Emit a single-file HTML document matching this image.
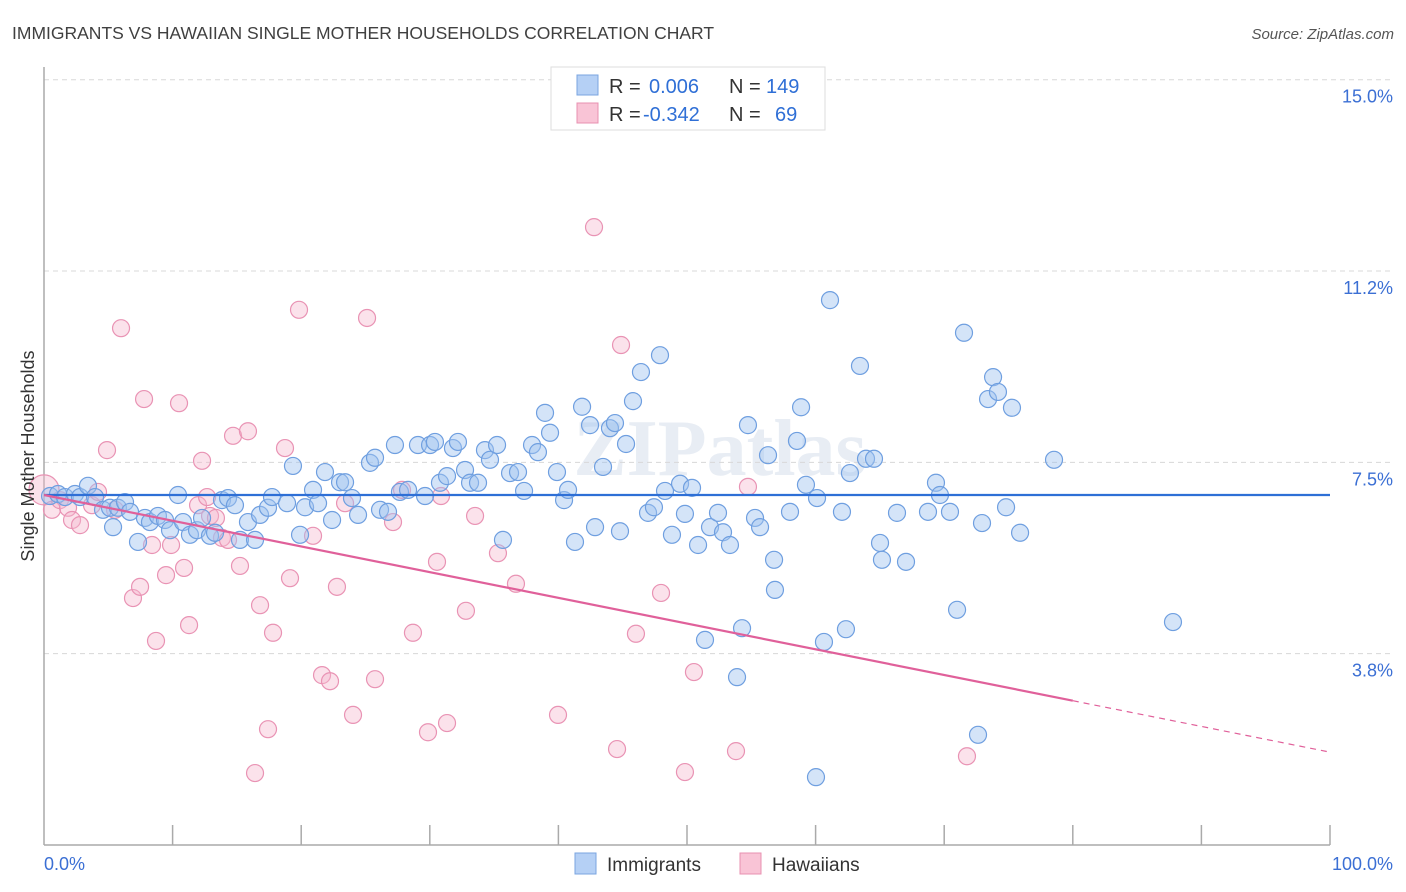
<!DOCTYPE html>
<html><head><meta charset="utf-8"><style>
body{margin:0;background:#fff;}
svg{display:block;font-family:"Liberation Sans",sans-serif;}
</style></head><body>
<svg id="chart" width="1406" height="892" viewBox="0 0 1406 892">
<text x="12" y="39" font-size="17.5" fill="#404040">IMMIGRANTS VS HAWAIIAN SINGLE MOTHER HOUSEHOLDS CORRELATION CHART</text>
<text x="1394" y="39" font-size="15" fill="#555" font-style="italic" text-anchor="end">Source: ZipAtlas.com</text>
<text x="720" y="475" font-size="80" fill="#e8edf4" text-anchor="middle" font-weight="bold" font-family="Liberation Serif,serif">ZIPatlas</text>
<g id="grid"></g>
<g id="axes"></g>
<g id="pts"></g>
<g id="trends"></g>
<text transform="translate(34,456) rotate(-90)" font-size="18" fill="#333" text-anchor="middle">Single Mother Households</text>
<g>
<rect x="551" y="67" width="274" height="63" fill="#fff" stroke="#ddd"/>
<rect x="577" y="75" width="21" height="20" fill="#b5d0f5" stroke="#7aa5e0"/>
<rect x="577" y="103" width="21" height="20" fill="#f9c4d6" stroke="#e890b0"/>
<text x="609" y="93" font-size="20" fill="#333">R = <tspan x="649" fill="#2f6fd6">0.006</tspan><tspan x="729" fill="#333">N = </tspan><tspan x="766" fill="#2f6fd6">149</tspan></text>
<text x="609" y="121" font-size="20" fill="#333">R = <tspan x="643" fill="#2f6fd6">-0.342</tspan><tspan x="729" fill="#333">N = </tspan><tspan x="775" fill="#2f6fd6">69</tspan></text>
</g>
<g>
<rect x="575" y="853" width="21" height="21" fill="#b5d0f5" stroke="#7aa5e0"/>
<text x="607" y="871" font-size="19" fill="#333">Immigrants</text>
<rect x="740" y="853" width="21" height="21" fill="#f9c4d6" stroke="#e890b0"/>
<text x="772" y="871" font-size="19" fill="#333">Hawaiians</text>
</g>
</svg>
<script>
const yTicks=[15.0,11.25,7.5,3.75];
const yTickLabels=["15.0%","11.2%","7.5%","3.8%"];
const xTickCount=10;
const xLabels=["0.0%","100.0%"];
const blueX=[0.47,1.09,1.63,2.41,2.80,3.42,3.97,4.59,5.13,5.37,5.75,6.30,6.69,7.31,7.85,8.24,8.86,9.41,9.80,10.42,10.81,11.35,11.90,12.29,12.91,13.30,13.84,14.31,14.85,15.24,15.86,16.41,16.80,17.42,17.73,18.90,19.36,19.91,20.30,20.92,21.31,21.85,22.40,23.02,23.41,23.95,24.42,25.35,25.74,26.13,26.75,27.29,27.68,28.31,29.08,29.63,30.02,30.40,30.79,31.34,31.80,32.19,32.74,33.13,33.75,34.29,34.68,35.23,35.69,36.24,36.86,37.33,37.95,38.41,38.96,39.35,39.89,40.44,40.75,41.29,41.84,42.46,42.85,43.47,44.01,44.40,44.79,45.26,45.80,46.42,46.97,47.43,47.90,48.29,48.83,49.46,49.84,50.39,50.86,51.40,51.79,52.41,52.80,53.34,54.28,54.74,53.89,55.29,55.68,56.30,56.77,56.84,58.01,58.55,58.87,59.25,60.11,60.65,61.12,62.05,62.36,62.67,63.45,63.92,64.54,65.01,65.16,66.33,67.03,68.74,69.36,69.67,70.45,71.00,71.54,72.94,73.41,73.80,74.18,74.81,75.27,75.90,78.54,87.79,72.63,60.03];
const blueY=[6.84,6.88,6.82,6.88,6.82,7.04,6.82,6.57,6.61,6.23,6.61,6.72,6.53,5.94,6.41,6.33,6.45,6.37,6.17,6.86,6.33,6.08,6.17,6.41,6.06,6.12,6.76,6.80,6.66,5.98,6.33,5.98,6.47,6.61,6.82,6.70,7.43,6.08,6.62,6.96,6.70,7.31,6.37,7.11,7.11,6.80,6.47,7.49,7.59,6.57,6.53,7.84,6.92,6.96,7.84,6.84,7.84,7.90,7.10,7.23,7.78,7.90,7.35,7.10,7.10,7.74,7.55,7.84,5.98,7.29,7.31,6.94,7.84,7.70,8.47,8.08,7.31,6.76,6.96,5.94,8.59,8.23,6.23,7.41,8.17,8.27,6.15,7.86,8.70,9.27,6.51,6.62,9.60,6.94,6.08,7.08,6.49,7.00,5.88,4.02,6.23,6.51,6.13,5.88,4.25,8.23,3.29,6.41,6.23,7.64,5.59,5.00,6.53,7.92,8.58,7.06,6.80,3.98,10.68,6.53,4.23,7.29,9.39,7.57,7.57,5.92,5.59,6.51,5.55,6.53,7.10,6.86,6.53,4.61,10.04,6.31,8.74,9.17,8.88,6.62,8.57,6.12,7.55,4.37,2.16,1.33];
const pinkX=[0,0.62,1.24,1.87,2.18,2.80,3.73,4.20,4.90,5.52,5.99,6.92,7.47,7.78,8.40,8.71,9.49,9.88,10.50,10.89,11.28,11.98,12.29,12.68,12.91,13.37,13.84,14.31,14.70,15.24,15.86,16.41,16.80,17.42,17.81,18.74,19.13,19.83,20.92,21.62,22.24,22.78,23.41,24.03,25.12,25.74,27.14,27.84,28.69,29.86,30.56,30.87,31.34,32.81,33.52,35.30,36.70,39.97,42.77,44.56,44.87,46.03,47.98,49.84,50.54,53.81,54.74,71.77];
const pinkY=[6.96,6.57,6.76,6.61,6.37,6.27,6.66,6.92,7.74,6.57,10.13,4.84,5.06,8.74,5.88,4.00,5.29,5.88,8.66,5.43,4.31,6.66,7.53,6.82,6.45,6.41,6.02,5.98,8.02,5.47,8.11,1.41,4.70,2.27,4.16,7.78,5.23,10.49,6.06,3.33,3.21,5.06,6.70,2.55,10.33,3.25,6.33,6.96,4.16,2.21,5.55,6.84,2.39,4.59,6.45,5.72,5.12,2.55,12.11,1.88,9.80,4.14,4.94,1.43,3.39,1.84,7.02,1.74];
const blueTrend=[6.86,6.86];
const pinkTrend=[6.86,1.82];
const pinkSolidEnd=80;

const NS="http://www.w3.org/2000/svg";
const X0=44,X1=1330,Y0=845,YPER=51.02;
function xs(v){return X0+(X1-X0)*v/100;}
function ys(v){return Y0-v*YPER;}
function mk(tag,attrs,parent){const e=document.createElementNS(NS,tag);for(const k in attrs)e.setAttribute(k,attrs[k]);parent.appendChild(e);return e;}
const grid=document.getElementById('grid'),axes=document.getElementById('axes'),pts=document.getElementById('pts'),tr=document.getElementById('trends');
yTicks.forEach((t,i)=>{
 const l=mk('line',{x1:X0,x2:1394,y1:ys(t),y2:ys(t),stroke:'#d8d8d8','stroke-dasharray':'5,4'},grid);
 
 
 const tx=mk('text',{x:1393,y:ys(t)+23,'font-size':18,fill:'#3b6fd4','text-anchor':'end'},grid);
 tx.textContent=yTickLabels[i];
 
 
});
const ya=mk('line',{x1:X0,x2:X0,y1:67,y2:Y0,stroke:'#aaa','stroke-width':1.5},axes);


const xa=mk('line',{x1:X0,x2:X1,y1:Y0,y2:Y0,stroke:'#aaa','stroke-width':1.5},axes);


for(let i=1;i<=xTickCount;i++){
 const t=mk('line',{x1:xs(i*10),x2:xs(i*10),y1:Y0-20,y2:Y0,stroke:'#aaa','stroke-width':1.5},axes);
 
 
}
const xl0=mk('text',{x:X0,y:870,'font-size':18,fill:'#3b6fd4'},axes);xl0.textContent=xLabels[0];


const xl1=mk('text',{x:1393,y:870,'font-size':18,fill:'#3b6fd4','text-anchor':'end'},axes);xl1.textContent=xLabels[1];


pinkX.forEach((x,i)=>{
 const c=mk('circle',{cx:xs(x),cy:ys(pinkY[i]),r:i===0?15:8.5,fill:'rgba(246,182,204,0.4)',stroke:'#e993b4','stroke-width':1.2},pts);
 
 
});
blueX.forEach((x,i)=>{
 const c=mk('circle',{cx:xs(x),cy:ys(blueY[i]),r:8.5,fill:'rgba(160,195,240,0.45)',stroke:'#6f9fe0','stroke-width':1.2},pts);
 
 
});
const bl=mk('line',{x1:xs(0),x2:xs(100),y1:ys(blueTrend[0]),y2:ys(blueTrend[1]),stroke:'#2e6fd6','stroke-width':2.2},tr);


const pm=pinkTrend[0]+(pinkTrend[1]-pinkTrend[0])*pinkSolidEnd/100;
const pl=mk('line',{x1:xs(0),x2:xs(pinkSolidEnd),y1:ys(pinkTrend[0]),y2:ys(pm),stroke:'#e0609a','stroke-width':2.2},tr);


const pd=mk('line',{x1:xs(pinkSolidEnd),x2:xs(100),y1:ys(pm),y2:ys(pinkTrend[1]),stroke:'#e0609a','stroke-width':1.2,'stroke-dasharray':'6,5'},tr);


</script>
</body></html>
